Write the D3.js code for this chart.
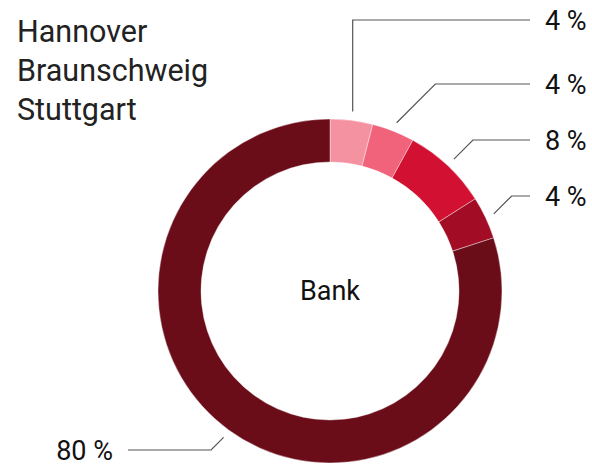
<!DOCTYPE html>
<html>
<head>
	<meta charset="UTF-8">
	<title>Bank Donut</title>
	<script src="https://d3js.org/d3.v7.min.js"></script>
	<style>
		body { margin: 0; background: #fff; }
		text { font-family: Roboto, "Noto Sans", sans-serif; }
	</style>
</head>
<body>
	<svg width="592" height="464"></svg>
	<script>
		// data
		var cities = ["Hannover", "Braunschweig", "Stuttgart"];
		var segments = ["Segment 1", "Segment 2", "Segment 3", "Segment 4", "Segment 5"];
		var shares = [4, 4, 8, 4, 80];
		var colors = ["#f592a2", "#f0637a", "#d21031", "#a20d25", "#6b0d19"];
		var centerLabel = "Bank";

		// label layout (where the percent labels sit)
		var labelY = [20, 84, 140, 196, 450];
		var bend = [0, 1, 1, 1, 1];

		var svg = d3.select("svg");
		var cx = 330, cy = 291;
		var rInner = 129, rOuter = 172;

		var pie = d3.pie().sort(null).value(d => d);
		var arc = d3.arc().innerRadius(rInner).outerRadius(rOuter);
		var arcs = pie(shares);

		var g = svg.append("g").attr("transform", "translate(" + cx + "," + cy + ")");

		g.selectAll(".slice")
			.data(arcs)
			.enter()
			.append("path")
			.attr("class", "slice")
			.attr("d", arc)
			.attr("fill", (d, i) => colors[i])
			.attr("stroke", "#fff")
			.attr("stroke-width", 0.4);

		g.append("text")
			.attr("x", 0)
			.attr("y", 9)
			.attr("text-anchor", "middle")
			.attr("font-size", "27px")
			.attr("fill", "#111")
			.text(centerLabel);

		// leader lines + labels
		var fmt = d => d + " %";
		arcs.forEach(function (d, i) {
			var mid = (d.startAngle + d.endAngle) / 2;
			var sx = cx + Math.sin(mid) * 181;
			var sy = cy - Math.cos(mid) * 181;
			var right = Math.sin(mid) >= 0;
			var ly = labelY[i];
			var dy = Math.abs(sy - ly);
			var ex = sx + (right ? 1 : -1) * dy * bend[i];
			var endX = right ? 530 : 128;

			svg.append("polyline")
				.attr("points", [[sx, sy], [ex, ly], [endX, ly]].map(p => p.join(",")).join(" "))
				.attr("fill", "none")
				.attr("stroke", "#555")
				.attr("stroke-width", 1.2);

			svg.append("text")
				.attr("x", right ? endX + 15 : endX - 15)
				.attr("y", ly + 9.5)
				.attr("text-anchor", right ? "start" : "end")
				.attr("font-size", "27px")
				.attr("fill", "#111")
				.text(fmt(shares[i]));
		});

		// title lines
		svg.append("g")
			.selectAll("text")
			.data(cities)
			.enter()
			.append("text")
			.attr("x", 17)
			.attr("y", (d, i) => 42 + i * 39)
			.attr("font-size", "30.5px")
			.attr("fill", "#222")
			.text(d => d);
	</script>
</body>
</html>
